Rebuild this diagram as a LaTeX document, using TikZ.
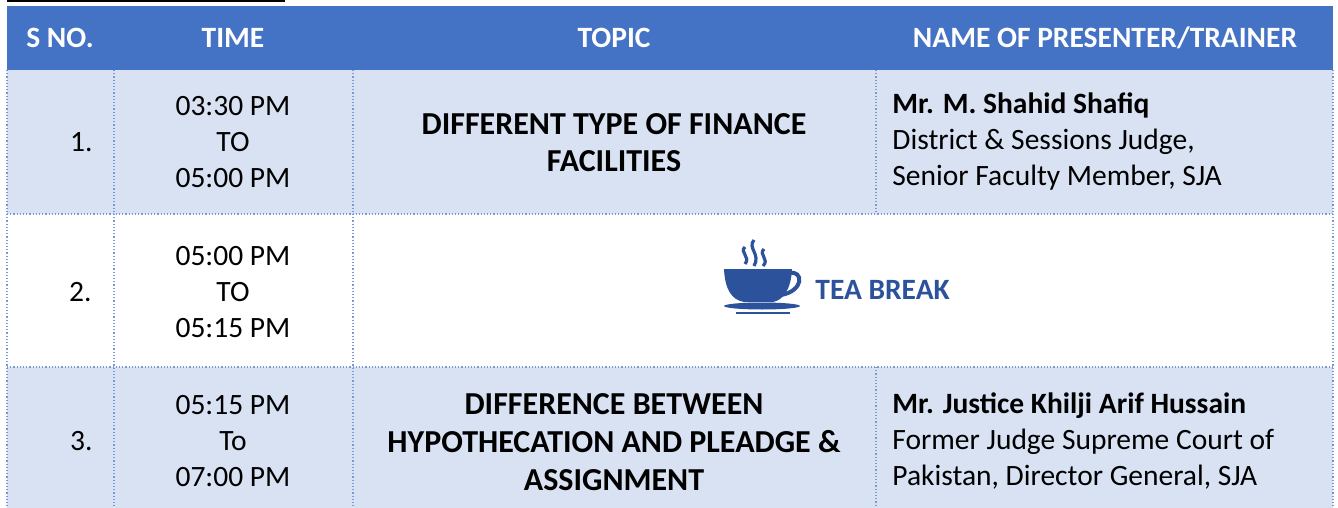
\documentclass[tikz,border=0pt]{standalone}
\usepackage{fontspec}
\setmainfont{Carlito}
\definecolor{headblue}{RGB}{68,114,196}
\definecolor{rowblue}{RGB}{217,226,243}
\definecolor{gridblue}{RGB}{120,152,214}
\definecolor{teablue}{RGB}{44,82,156}
\newcommand{\cellfont}{\fontsize{14.75}{18}\selectfont}
\tikzset{
  headtext/.style={text=white, font=\cellfont\bfseries},
  celltext/.style={align=center, inner sep=0pt},
  topictext/.style={align=center, inner sep=0pt, font=\fontsize{16}{19}\selectfont\bfseries},
  nametext/.style={align=left, anchor=west, inner sep=0pt},
  numtext/.style={anchor=east, inner sep=0pt},
}
\begin{document}
\begin{tikzpicture}[x=0.5pt, y=-0.5pt, font=\cellfont]
    \useasboundingbox (0,0) rectangle (1338,508);
    \fill[rowblue] (7,70) rectangle (1333,214);
    \fill[rowblue] (7,367) rectangle (1333,508);
    \fill[headblue] (7,6) rectangle (1333,70);
    \draw[line width=1pt] (7,1) -- (285,1);
    \draw[gridblue, densely dotted, line width=0.6pt] (7,214) -- (1333,214);
    \draw[gridblue, densely dotted, line width=0.6pt] (7,367) -- (1333,367);
    \draw[gridblue, densely dotted, line width=0.6pt] (7,70) -- (7,508);
    \draw[gridblue, densely dotted, line width=0.6pt] (114,70) -- (114,508);
    \draw[gridblue, densely dotted, line width=0.6pt] (353,70) -- (353,508);
    \draw[gridblue, densely dotted, line width=0.6pt] (876,70) -- (876,214);
    \draw[gridblue, densely dotted, line width=0.6pt] (876,367) -- (876,508);
    \draw[gridblue, densely dotted, line width=0.6pt] (1333,70) -- (1333,508);

    \node[headtext] (hsno) at (60,38) {S NO.};
    \node[headtext] (htime) at (233,38) {TIME};
    \node[headtext] (htopic) at (614,38) {TOPIC};
    \node[headtext] (hname) at (1105,38) {NAME OF PRESENTER/TRAINER};

    \node[numtext] (sno1) at (93,142) {1.};
    \node[celltext] (time1) at (233,142) {03:30 PM\\TO\\05:00 PM};
    \node[topictext, font=\fontsize{16}{18.5}\selectfont\bfseries] (topic1) at (614,143) {DIFFERENT TYPE OF FINANCE\\FACILITIES};
    \node[nametext] (name1) at (892,142) {\textbf{Mr. M. Shahid Shafiq}\\District \& Sessions Judge,\\Senior Faculty Member, SJA};

    \node[numtext] (sno2) at (92,292) {2.};
    \node[celltext] (time2) at (233,292) {05:00 PM\\TO\\05:15 PM};
    \node[anchor=west, inner sep=0pt, text=teablue, font=\cellfont\bfseries] (tea) at (815,290) {TEA BREAK};
    \fill[teablue] (724,269) -- (792,269) .. controls (791,290) and (783,300) .. (773,302)
        -- (744,302) .. controls (732,300) and (725,290) .. (724,269) -- cycle;
    \draw[teablue, line width=2pt] (789,273) .. controls (804,270) and (804,291) .. (781,295);
    \fill[teablue] (762,306) ellipse [x radius=38, y radius=3.5];
    \draw[teablue, line width=1pt] (736,313) -- (790,313);
    \draw[teablue, line width=1.6pt] (745,247) .. controls (739,252) and (751,257) .. (745,264);
    \draw[teablue, line width=1.6pt] (754,240) .. controls (747,248) and (761,254) .. (754,266);
    \draw[teablue, line width=1.6pt] (764,249) .. controls (758,255) and (770,259) .. (763,266);

    \node[numtext] (sno3) at (93,441) {3.};
    \node[celltext] (time3) at (233,441) {05:15 PM\\To\\07:00 PM};
    \node[topictext] (topic3) at (614,442) {DIFFERENCE BETWEEN\\HYPOTHECATION AND PLEADGE \&\\ASSIGNMENT};
    \node[nametext] (name3) at (892,441) {\textbf{Mr. Justice Khilji Arif Hussain}\\Former Judge Supreme Court of\\Pakistan, Director General, SJA};
\end{tikzpicture}
\end{document}
